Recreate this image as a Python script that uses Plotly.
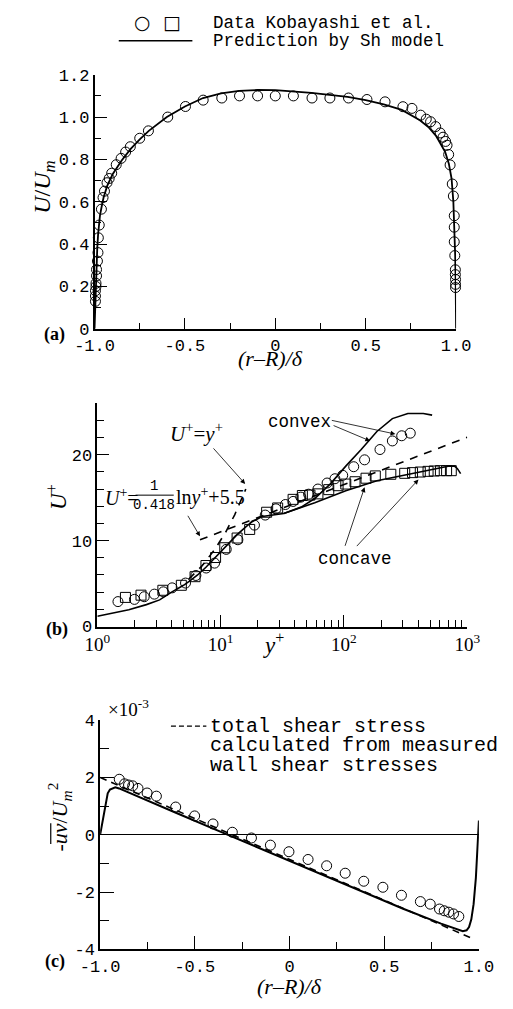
import math
import plotly.graph_objects as go

W, H = 513, 1009

# ---------------- data: panel (a) ----------------
a_data_x = [-0.995, -0.995, -0.995, -0.992, -0.992, -0.989, -0.989, -0.984, -0.981, -0.979, -0.974,
            -0.962, -0.953, -0.945, -0.931, -0.919, -0.905, -0.880, -0.853, -0.828, -0.802, -0.750,
            -0.702, -0.595, -0.497, -0.399, -0.296, -0.198, -0.098, 0.0, 0.1, 0.203, 0.302, 0.405,
            0.507, 0.607, 0.706, 0.756, 0.804, 0.835, 0.859, 0.887, 0.912, 0.928, 0.942, 0.950,
            0.959, 0.967, 0.979, 0.985, 0.990, 0.990, 0.990, 0.993, 0.996, 0.996, 0.997, 0.997, 0.997]
a_data_y = [0.13, 0.155, 0.18, 0.20, 0.215, 0.25, 0.28, 0.32, 0.36, 0.43, 0.49,
            0.565, 0.62, 0.65, 0.69, 0.71, 0.735, 0.775, 0.805, 0.835, 0.86, 0.90,
            0.935, 1.0, 1.05, 1.08, 1.09, 1.10, 1.10, 1.10, 1.10, 1.09, 1.09, 1.09,
            1.083, 1.072, 1.049, 1.041, 1.009, 0.99, 0.978, 0.955, 0.925, 0.905, 0.885, 0.867,
            0.823, 0.774, 0.684, 0.627, 0.534, 0.48, 0.411, 0.346, 0.279, 0.256, 0.233, 0.21, 0.195]
a_model_x = [-1.0, -0.995, -0.99, -0.985, -0.98, -0.975, -0.97, -0.96, -0.95, -0.93, -0.9, -0.85,
             -0.8, -0.75, -0.7, -0.6, -0.5, -0.4, -0.3, -0.2, -0.1, 0.0, 0.1, 0.2, 0.3, 0.4, 0.5,
             0.6, 0.7, 0.8, 0.85, 0.887, 0.9, 0.94, 0.96, 0.975, 0.985, 0.99, 0.995, 0.998, 1.0]
a_model_y = [0.0, 0.15, 0.28, 0.38, 0.45, 0.50, 0.535, 0.58, 0.62, 0.675, 0.73, 0.795,
             0.85, 0.895, 0.935, 1.0, 1.05, 1.09, 1.112, 1.124, 1.128, 1.127, 1.122, 1.114, 1.105,
             1.095, 1.08, 1.06, 1.034, 0.985, 0.95, 0.914, 0.895, 0.835, 0.78, 0.71, 0.60, 0.50,
             0.35, 0.20, 0.0]

# ---------------- data: panel (b) ----------------
b_convex_x = [1.47, 2.0, 2.4, 2.9, 3.43, 4.04, 5.19, 6.3, 7.64, 8.93, 11.1, 13.8, 18.8, 23, 28.1,
              33.5, 38.7, 44.7, 51.7, 61.5, 73, 84.5, 97.7, 120, 147, 196, 247, 294, 345]
b_convex_y = [2.9, 3.16, 3.47, 3.77, 4.04, 4.5, 5.06, 5.94, 6.81, 7.38, 8.98, 10.1, 11.8, 12.97, 13.7,
              14.2, 14.56, 15.06, 15.4, 16.0, 16.7, 17.2, 17.6, 18.6, 19.4, 20.6, 21.6, 22.2, 22.5]
b_concave_x = [1.69, 2.26, 3.4, 4.8, 6.2, 7.6, 9.1, 10.8, 13.6, 17.2, 23.6, 29, 38.7, 46, 53, 61.5,
               75.3, 89.6, 103.5, 123, 151, 179.6, 240, 311, 360, 416, 481, 540, 606, 680, 742]
b_concave_y = [3.39, 3.65, 4.22, 4.8, 5.8, 7.1, 8.03, 9.17, 10.3, 11.3, 13.3, 13.8, 14.8, 15.25, 15.3,
               15.44, 15.93, 16.39, 16.58, 16.85, 17.26, 17.53, 17.72, 17.83, 17.91, 17.98, 18.06,
               18.1, 18.14, 18.14, 18.14]
b_model_concave_x = [1.0, 1.3, 1.8, 2.5, 3.2, 4.0, 5.0, 5.7, 6.5, 7.6, 9.0, 10.2, 12.0, 13.6, 16.0,
                     18.0, 21.7, 32.5, 58, 103.5, 185, 330, 589, 700, 787, 830, 884]
b_model_concave_y = [1.2, 1.55, 1.95, 2.55, 3.1, 4.0, 4.8, 5.37, 6.0, 6.9, 8.0, 8.8, 9.8, 10.7, 11.6,
                     12.2, 12.8, 13.16, 14.4, 15.8, 16.96, 17.7, 18.48, 18.65, 18.67, 18.4, 17.8]
b_model_convex_x = [32.5, 45, 58, 77.6, 103.5, 138, 185, 247, 330, 440, 519]
b_model_convex_y = [13.16, 13.9, 14.9, 16.6, 18.67, 20.6, 22.7, 24.2, 24.8, 24.8, 24.6]
b_linear_x = [5.5, 7, 9, 11, 13, 16]
b_linear_y = [5.5, 7, 9, 11, 13, 16]
b_log_x = [6.8, 1000]
b_log_y = [10.09, 22.03]
b_xtick_vals = [1, 10, 100, 1000]
b_xtick_text = ["10<sup>0</sup>", "10<sup>1</sup>", "10<sup>2</sup>", "10<sup>3</sup>"]
# arrows: head (y+, U+), tail offset in px
b_arrows = [(15.8, 16.6, -33, -37), (6.8, 10.5, -13, -22), (261, 22.4, -65, -14),
            (163, 21.6, -38, -16), (147, 16.2, -20, 60), (402, 17.1, -63, 68)]

# ---------------- data: panel (c) ----------------
c_data_x = [-0.899, -0.871, -0.85, -0.828, -0.8, -0.752, -0.703, -0.601, -0.501, -0.404, -0.302,
            -0.201, -0.101, -0.003, 0.098, 0.196, 0.294, 0.392, 0.493, 0.591, 0.691, 0.743, 0.792,
            0.817, 0.841, 0.866, 0.894]
c_data_y = [1.94, 1.78, 1.74, 1.71, 1.62, 1.46, 1.35, 0.97, 0.66, 0.38, 0.09,
            -0.11, -0.36, -0.59, -0.86, -1.08, -1.34, -1.62, -1.83, -2.11, -2.33, -2.42, -2.59,
            -2.65, -2.7, -2.76, -2.85]
c_model_x = [-1.0, -0.99, -0.98, -0.97, -0.96, -0.948, -0.93, -0.92, -0.9, -0.8, -0.6, -0.4, -0.2,
             0.0, 0.2, 0.4, 0.6, 0.8, 0.88, 0.915, 0.935, 0.948, 0.96, 0.972, 0.984, 0.992, 0.997, 1.0]
c_model_y = [0.0, 0.4, 0.8, 1.2, 1.45, 1.58, 1.65, 1.66, 1.62, 1.33, 0.77, 0.21, -0.35,
             -0.91, -1.47, -2.02, -2.58, -3.1, -3.3, -3.36, -3.33, -3.22, -2.95, -2.42, -1.5, -0.36, 0.32, 0.5]
c_total_x = [-1.0, 0.96]
c_total_y = [2.0, -3.6]

# ---------------- helpers ----------------
def px(x):
    return x / W

def py(y):
    return 1 - y / H

dom_a_x = [px(80), px(468)]
dom_a_y = [py(327), py(68)]
dom_b_x = [px(83), px(480)]
dom_b_y = [py(630.4), py(402.7)]
dom_c_x = [px(86), px(492.5)]
dom_c_y = [py(959.5), py(725.9)]

TICKFONT = dict(family="Liberation Mono", size=17, color="black")
SERIF = "Liberation Serif"

def axstyle(**kw):
    d = dict(showline=True, linecolor="black", linewidth=1.5, ticks="inside", tickcolor="black",
             tickwidth=1.2, showgrid=False, zeroline=False, tickfont=TICKFONT, mirror=False)
    d.update(kw)
    return d

fig = go.Figure()
circ = dict(symbol="circle-open", size=10, color="black", line=dict(width=1, color="black"))
sq = dict(symbol="square-open", size=10, color="black", line=dict(width=1, color="black"))

# panel a
fig.add_trace(go.Scatter(x=a_model_x, y=a_model_y, mode="lines", line=dict(color="black", width=1.8),
                         xaxis="x", yaxis="y", showlegend=False, cliponaxis=False))
fig.add_trace(go.Scatter(x=a_data_x, y=a_data_y, mode="markers", marker=circ,
                         xaxis="x", yaxis="y", showlegend=False, cliponaxis=False))
# panel b
fig.add_trace(go.Scatter(x=b_linear_x, y=b_linear_y, mode="lines",
                         line=dict(color="black", width=1.6, dash="8px,7px"),
                         xaxis="x2", yaxis="y2", showlegend=False))
fig.add_trace(go.Scatter(x=b_log_x, y=b_log_y, mode="lines",
                         line=dict(color="black", width=1.6, dash="8px,7px"),
                         xaxis="x2", yaxis="y2", showlegend=False, cliponaxis=False))
fig.add_trace(go.Scatter(x=b_model_concave_x, y=b_model_concave_y, mode="lines",
                         line=dict(color="black", width=1.6), xaxis="x2", yaxis="y2", showlegend=False,
                         cliponaxis=False))
fig.add_trace(go.Scatter(x=b_model_convex_x, y=b_model_convex_y, mode="lines",
                         line=dict(color="black", width=1.6), xaxis="x2", yaxis="y2", showlegend=False))
fig.add_trace(go.Scatter(x=b_convex_x, y=b_convex_y, mode="markers", marker=circ,
                         xaxis="x2", yaxis="y2", showlegend=False))
fig.add_trace(go.Scatter(x=b_concave_x, y=b_concave_y, mode="markers", marker=sq,
                         xaxis="x2", yaxis="y2", showlegend=False))
# panel c
fig.add_trace(go.Scatter(x=c_total_x, y=c_total_y, mode="lines",
                         line=dict(color="black", width=1.6, dash="7px,5px"),
                         xaxis="x3", yaxis="y3", showlegend=False, cliponaxis=False))
fig.add_trace(go.Scatter(x=c_model_x, y=c_model_y, mode="lines", line=dict(color="black", width=2),
                         xaxis="x3", yaxis="y3", showlegend=False, cliponaxis=False))
fig.add_trace(go.Scatter(x=c_data_x, y=c_data_y, mode="markers", marker=circ,
                         xaxis="x3", yaxis="y3", showlegend=False, cliponaxis=False))

fig.update_layout(
    width=W, height=H, autosize=False, margin=dict(l=0, r=0, t=0, b=0),
    paper_bgcolor="white", plot_bgcolor="white",
    xaxis=axstyle(domain=dom_a_x, anchor="y", range=[-1, 1], ticklen=11,
                  tickvals=[-1, -0.5, 0, 0.5, 1], ticktext=["-1.0", "-0.5", "0", "0.5", "1.0"],
                  minor=dict(ticks="inside", ticklen=6, dtick=0.25, tick0=0, tickcolor="black")),
    yaxis=axstyle(domain=dom_a_y, anchor="x", range=[0, 1.2], ticklen=13,
                  tickvals=[0, 0.2, 0.4, 0.6, 0.8, 1.0, 1.2],
                  ticktext=["0", "0.2", "0.4", "0.6", "0.8", "1.0", "1.2"],
                  minor=dict(ticks="inside", ticklen=7, dtick=0.1, tick0=0, tickcolor="black")),
    xaxis2=axstyle(domain=dom_b_x, anchor="y2", type="log", range=[0, 3], ticklen=12,
                   tickvals=b_xtick_vals, ticktext=b_xtick_text,
                   tickfont=dict(family=SERIF, size=19, color="black"),
                   minor=dict(ticks="inside", ticklen=7, dtick="D1", tickcolor="black")),
    yaxis2=axstyle(domain=dom_b_y, anchor="x2", range=[0, 26], ticklen=12,
                   tickvals=[0, 10, 20], ticktext=["0", "10", "20"],
                   minor=dict(ticks="inside", ticklen=7, dtick=2, tick0=0, tickcolor="black")),
    xaxis3=axstyle(domain=dom_c_x, anchor="y3", range=[-1, 1], ticklen=14,
                   tickvals=[-1, -0.5, 0, 0.5, 1], ticktext=["-1.0", "-0.5", "0", "0.5", "1.0"],
                   minor=dict(ticks="inside", ticklen=8, dtick=0.25, tick0=0, tickcolor="black")),
    yaxis3=axstyle(domain=dom_c_y, anchor="x3", range=[-4, 4], ticklen=14,
                   tickvals=[-4, -2, 0, 2, 4], ticktext=["-4", "-2", "0", "2", "4"],
                   zeroline=True, zerolinecolor="black", zerolinewidth=1,
                   minor=dict(ticks="inside", ticklen=9, dtick=1, tick0=0, tickcolor="black")),
    xaxis4=dict(domain=dom_c_x, overlaying="x3", anchor="free",
                position=(dom_c_y[0] + dom_c_y[1]) / 2, range=[-1, 1], showline=False,
                showgrid=False, zeroline=False, ticks="inside", ticklen=10, tickwidth=1,
                tickcolor="black", tickvals=[-0.5, 0, 0.5, 1], showticklabels=False,
                minor=dict(ticks="inside", ticklen=6, dtick=0.25, tick0=0, tickcolor="black")),
)

ann = []

def text(x, y, t, size=17, family="Liberation Mono", xanchor="center", angle=0):
    ann.append(dict(xref="paper", yref="paper", x=px(x), y=py(y), text=t, showarrow=False,
                    xanchor=xanchor, yanchor="middle", textangle=angle,
                    font=dict(family=family, size=size, color="black")))

# top legend
text(131.7, 14.5, "○", size=19, family="DejaVu Sans")
text(163.3, 14.5, "□", size=19, family="DejaVu Sans")
text(205, 15, "Data Kobayashi et al.", size=17.5, xanchor="left")
text(205, 34, "Prediction by Sh model", size=17.5, xanchor="left")

# panel a labels
text(37, 333, "<b>(a)</b>", size=18, family=SERIF)
text(269, 357, "<i>(r</i>–<i>R)/δ</i>", size=22, family=SERIF)
text(25, 183, "<i>U</i>/<i>U</i><sub><i>m</i></sub>", size=24, family=SERIF, angle=-90)

# panel b labels
text(40, 633, "<b>(b)</b>", size=18, family=SERIF)
text(272, 648, "<i>y</i><sup>+</sup>", size=23, family=SERIF)
text(40, 498, "<i>U</i><sup>+</sup>", size=23, family=SERIF, angle=-90)
text(300, 422, "convex", size=17.5)
text(359.5, 562, "concave", size=17.5)
text(189, 433, "<i>U</i><sup>+</sup>=<i>y</i><sup>+</sup>", size=21, family=SERIF)
text(89, 498, "<i>U</i><sup>+</sup>=", size=20, family=SERIF, xanchor="left")
text(144, 487, "1", size=14)
text(144, 507, "0.418", size=14)
text(165, 498, "ln<i>y</i><sup>+</sup>+5.5", size=20, family=SERIF, xanchor="left")

# panel c labels
text(38, 972, "<b>(c)</b>", size=18, family=SERIF)
text(289, 997, "<i>(r</i>–<i>R)/δ</i>", size=22, family=SERIF)
text(42, 825, "-<i>uv</i>/<i>U</i><sub><i>m</i></sub><sup>2</sup>",
     size=22, family=SERIF, angle=-90)
text(116, 713, "×10<sup>-3</sup>", size=19, family=SERIF)
text(202, 732, "total shear stress", size=20, xanchor="left")
text(202, 752, "calculated from measured", size=20, xanchor="left")
text(202, 772, "wall shear stresses", size=20, xanchor="left")

for hx, hy, dx, dy in b_arrows:
    ann.append(dict(xref="x2", yref="y2", x=math.log10(hx), y=hy, ax=dx, ay=dy, text="",
                    showarrow=True, arrowhead=2, arrowsize=1.2, arrowwidth=0.8, arrowcolor="black"))

fig.update_layout(annotations=ann)

shapes = [
    dict(type="line", xref="paper", yref="paper", x0=px(106), x1=px(185), y0=py(33.5), y1=py(33.5),
         line=dict(color="black", width=1.5)),
    dict(type="line", xref="paper", yref="paper", x0=px(124), x1=px(165), y0=py(496.5), y1=py(496.5),
         line=dict(color="black", width=1)),
    dict(type="line", xref="paper", yref="paper", x0=px(162), x1=px(200), y0=py(732), y1=py(732),
         line=dict(color="black", width=1.3, dash="5px,3px")),
    # overline over "uv" in the rotated (c) axis title
    dict(type="line", xref="paper", yref="paper", x0=px(33), x1=px(33), y0=py(831), y1=py(852),
         line=dict(color="black", width=1.2)),
]
fig.update_layout(shapes=shapes)

fig.write_html("out.html")
